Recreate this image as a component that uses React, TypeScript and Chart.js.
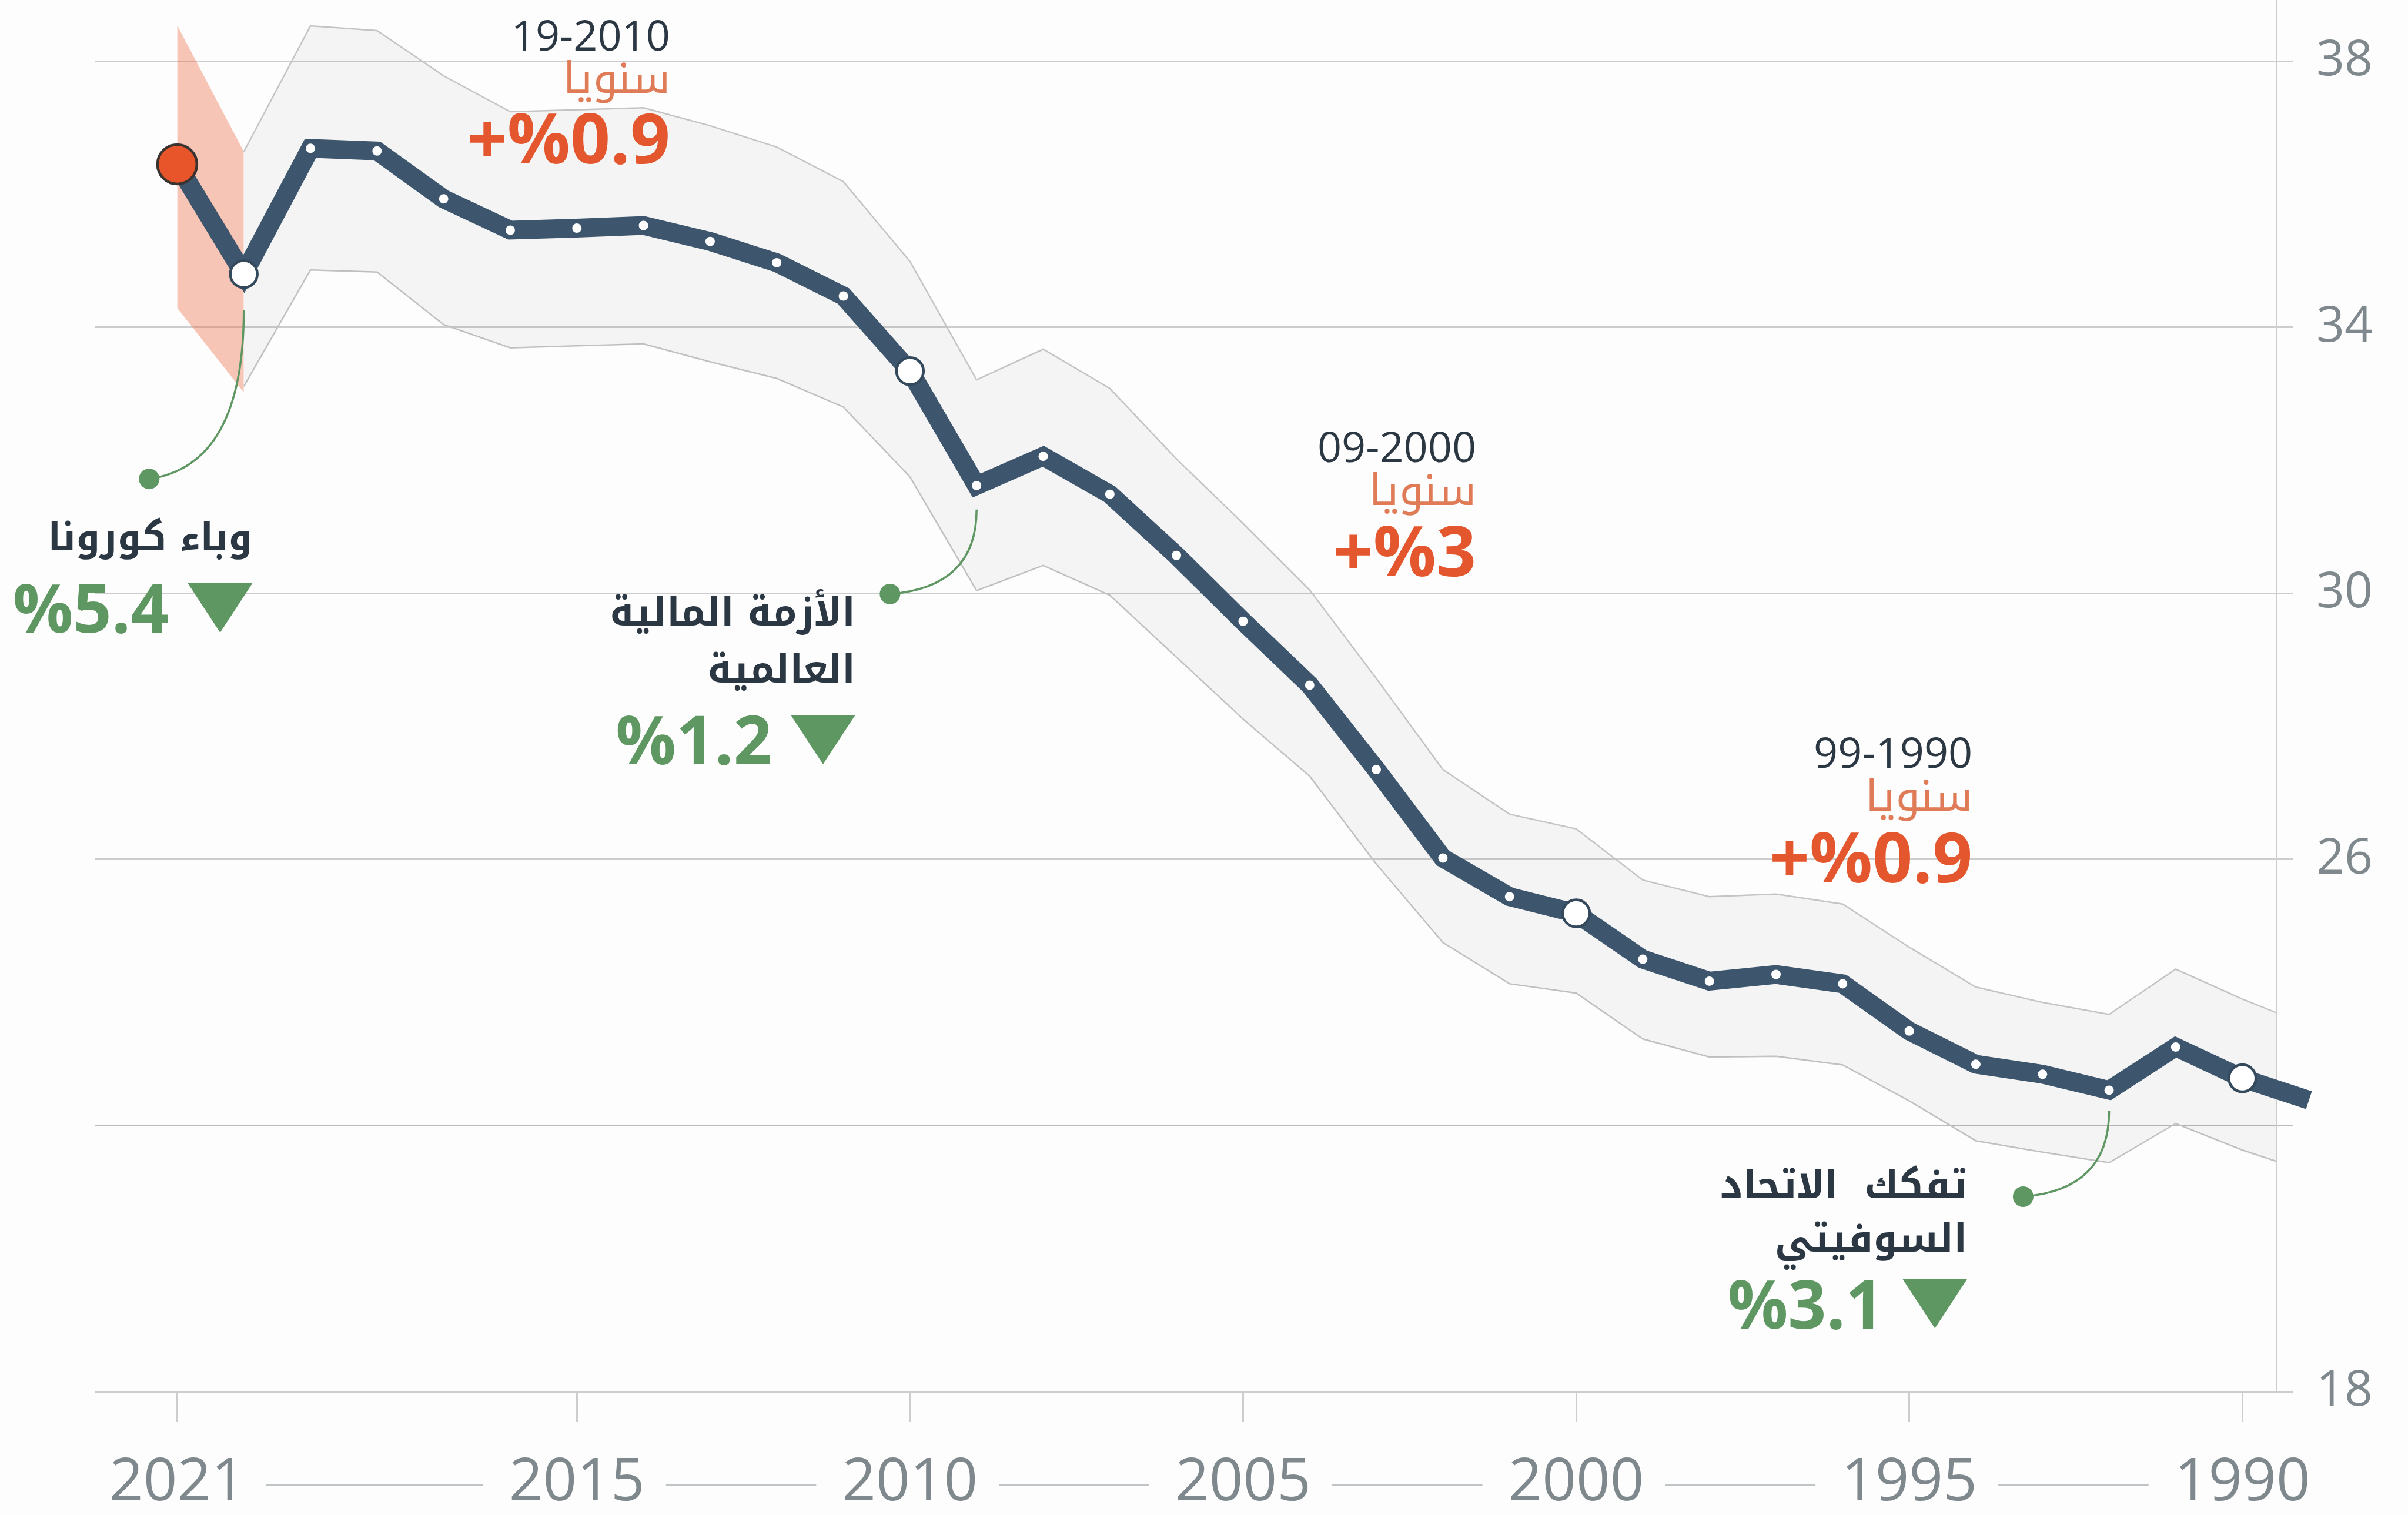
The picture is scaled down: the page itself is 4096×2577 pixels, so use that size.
import React, { useEffect, useRef } from "react";
import { Chart, registerables } from "chart.js";

Chart.register(...registerables);

// ---------------- data ----------------
const years = [2021, 2020, 2019, 2018, 2017, 2016, 2015, 2014, 2013, 2012, 2011, 2010, 2009, 2008, 2007, 2006, 2005, 2004, 2003, 2002, 2001, 2000, 1999, 1998, 1997, 1996, 1995, 1994, 1993, 1992, 1991, 1990, 1989];
const values = [36.45, 34.8, 36.69, 36.65, 35.93, 35.46, 35.49, 35.53, 35.29, 34.97, 34.47, 33.34, 31.62, 32.06, 31.49, 30.57, 29.58, 28.62, 27.35, 26.02, 25.44, 25.19, 24.5, 24.17, 24.27, 24.13, 23.42, 22.92, 22.77, 22.53, 23.18, 22.71, 22.38];

const bandYears = [2020, 2019, 2018, 2017, 2016, 2015, 2014, 2013, 2012, 2011, 2010, 2009, 2008, 2007, 2006, 2005, 2004, 2003, 2002, 2001, 2000, 1999, 1998, 1997, 1996, 1995, 1994, 1993, 1992, 1991, 1990, 1989];
const bandUpper = [36.64, 38.53, 38.46, 37.78, 37.24, 37.27, 37.3, 37.03, 36.71, 36.19, 34.99, 33.21, 33.67, 33.08, 32.02, 31.05, 30.05, 28.72, 27.35, 26.68, 26.46, 25.69, 25.44, 25.48, 25.33, 24.68, 24.08, 23.85, 23.67, 24.35, 23.9, 23.5];
const bandLower = [33.11, 34.86, 34.83, 34.04, 33.69, 33.72, 33.75, 33.48, 33.23, 32.8, 31.75, 30.04, 30.42, 29.97, 29.04, 28.11, 27.25, 25.93, 24.75, 24.13, 23.99, 23.3, 23.03, 23.04, 22.91, 22.37, 21.77, 21.6, 21.44, 22.03, 21.63, 21.3];

const covidYears = [2021, 2020];
const covidUpper = [38.54, 36.64];
const covidLower = [34.29, 33.02];

const highlightYears = [2020, 2010, 2000, 1990];
const currentYear = 2021;
const lastYear = 1989;

const xTickYears = [2021, 2015, 2010, 2005, 2000, 1995, 1990];
const yTickValues = [18, 22, 26, 30, 34, 38];
const hiddenYTick = 22;

const periodLabels = ["19-2010", "09-2000", "99-1990"];
const periodWord = "سنويا";
const periodRates = ["+%0.9", "+%3", "+%0.9"];

const eventTitles = [["وباء كورونا"], ["الأزمة المالية", "العالمية"], ["تفكك  الاتحاد", "السوفيتي"]];
const eventDrops = ["%5.4", "%1.2", "%3.1"];

// ---------------- layout (data coordinates) ----------------
const periodLayout = [
  { x: 2013.6, y: [38.16, 37.52, 36.46] },
  { x: 2001.5, y: [31.97, 31.33, 30.26] },
  { x: 1994.05, y: [27.38, 26.73, 25.65] },
];
const eventLayout = [
  { x: 2019.87, titleY: [30.65], dropY: 29.41, start: [2020, 34.26], dot: [2021.42, 31.72] },
  { x: 2010.82, titleY: [29.52, 28.66], dropY: 27.43, start: [2009, 31.26], dot: [2010.3, 29.99] },
  { x: 1994.13, titleY: [20.91, 20.1], dropY: 18.95, start: [1992, 22.22], dot: [1993.29, 20.93] },
];

// ---------------- style ----------------
const W = 4096;
const H = 2577;
const FONT = '"Open Sans", "Noto Sans", "DejaVu Sans", sans-serif';
const AR_FONT = '"Noto Kufi Arabic", "Noto Sans Arabic", "DejaVu Sans", sans-serif';
const LINE = "#3d566d";
const DARK_TEXT = "#2b3742";
const ORANGE = "#e4572e";
const ORANGE_LIGHT = "#df7b57";
const GREEN = "#5e9762";
const AXIS_TEXT = "#7e888d";
const GRID = "#cdcdcd";
const X_FONT = 101;
const Y_FONT = 84;
const X_TICK_LEN = 51;
const X_PAD = 45;
const CHART_RIGHT = 3872;
const Y_LABEL_RIGHT = 4036;

const bgPlugin = {
  id: "bg",
  beforeDraw(chart: any) {
    const ctx = chart.ctx;
    ctx.save();
    ctx.fillStyle = "#fdfdfd";
    ctx.fillRect(0, 0, chart.width, chart.height);
    ctx.restore();
  },
};

const dashPlugin = {
  id: "xdash",
  afterDraw(chart: any) {
    const ctx = chart.ctx;
    const xs = chart.scales.x;
    ctx.save();
    ctx.font = `${X_FONT}px ${FONT}`;
    const yMid = xs.top + X_TICK_LEN + X_PAD + (X_FONT * 1.2) / 2 + 2;
    ctx.strokeStyle = "#bfc4c6";
    ctx.lineWidth = 3;
    for (let i = 0; i < xTickYears.length - 1; i++) {
      const a = xTickYears[i];
      const b = xTickYears[i + 1];
      const pa = xs.getPixelForValue(a);
      const pb = xs.getPixelForValue(b);
      const wa = ctx.measureText(String(a)).width;
      const wb = ctx.measureText(String(b)).width;
      const x1 = pa + wa / 2 + 36;
      const x2 = pb - wb / 2 - 44;
      ctx.beginPath();
      ctx.moveTo(x1, yMid);
      ctx.lineTo(x2, yMid);
      ctx.stroke();
    }
    ctx.restore();
  },
};

function drawText(ctx: any, t: string, x: number, y: number, font: string, color: string, dir: string) {
  ctx.save();
  ctx.font = font;
  ctx.fillStyle = color;
  ctx.direction = dir;
  ctx.textAlign = "right";
  ctx.textBaseline = "alphabetic";
  ctx.fillText(t, x, y);
  ctx.restore();
}

const annotationPlugin = {
  id: "notes",
  afterDraw(chart: any) {
    const ctx = chart.ctx;
    const xs = chart.scales.x;
    const ys = chart.scales.y;
    const px = (v: number) => xs.getPixelForValue(v);
    const py = (v: number) => ys.getPixelForValue(v);

    periodLabels.forEach((lab, i) => {
      const L = periodLayout[i];
      const x = px(L.x);
      drawText(ctx, lab, x, py(L.y[0]), `400 72px ${FONT}`, DARK_TEXT, "ltr");
      drawText(ctx, periodWord, x, py(L.y[1]), `400 74px ${AR_FONT}`, ORANGE_LIGHT, "rtl");
      drawText(ctx, periodRates[i], x, py(L.y[2]), `700 119px ${FONT}`, ORANGE, "ltr");
    });

    eventTitles.forEach((lines, i) => {
      const L = eventLayout[i];
      const x = px(L.x);
      const sx = px(L.start[0]);
      const sy = py(L.start[1]);
      const dx = px(L.dot[0]);
      const dy = py(L.dot[1]);
      ctx.save();
      ctx.strokeStyle = GREEN;
      ctx.lineWidth = 3.5;
      ctx.beginPath();
      ctx.moveTo(sx, sy);
      ctx.quadraticCurveTo(sx, dy - (dy - sy) * 0.08, dx, dy);
      ctx.stroke();
      ctx.fillStyle = GREEN;
      ctx.beginPath();
      ctx.arc(dx, dy, 17.5, 0, Math.PI * 2);
      ctx.fill();
      ctx.restore();

      lines.forEach((t, j) => {
        drawText(ctx, t, x, py(L.titleY[j]), `700 66px ${AR_FONT}`, DARK_TEXT, "rtl");
      });
      const by = py(L.dropY);
      ctx.save();
      ctx.fillStyle = GREEN;
      ctx.beginPath();
      ctx.moveTo(x - 110, by - 84);
      ctx.lineTo(x, by - 84);
      ctx.lineTo(x - 55, by);
      ctx.closePath();
      ctx.fill();
      ctx.restore();
      drawText(ctx, eventDrops[i], x - 110 - 32, by, `700 114px ${FONT}`, GREEN, "ltr");
    });
  },
};

export default function App() {
  const ref = useRef<HTMLCanvasElement>(null);
  useEffect(() => {
    document.body.style.margin = "0";
    const canvas = ref.current as HTMLCanvasElement;
    const linePoints = years.map((yr, i) => ({ x: yr, y: values[i] }));
    const upperPts = bandYears.map((yr, i) => ({ x: yr, y: bandUpper[i] }));
    const lowerPts = bandYears.map((yr, i) => ({ x: yr, y: bandLower[i] }));
    const covUp = covidYears.map((yr, i) => ({ x: yr, y: covidUpper[i] }));
    const covLo = covidYears.map((yr, i) => ({ x: yr, y: covidLower[i] }));
    const isHi = (yr: number) => highlightYears.includes(yr);
    const radius = years.map((yr) => (yr === currentYear ? 33.5 : isHi(yr) ? 23 : yr === lastYear ? 0 : 8));

    const chart = new Chart(canvas, {
      type: "line",
      data: {
        datasets: [
          {
            label: "line",
            data: linePoints,
            borderColor: LINE,
            borderWidth: 32,
            borderJoinStyle: "miter",
            borderCapStyle: "butt",
            tension: 0,
            fill: false,
            clip: false,
            order: 0,
            pointRadius: radius,
            pointHoverRadius: radius,
            pointBackgroundColor: years.map((yr) => (yr === currentYear ? "#e8552b" : "#ffffff")),
            pointBorderColor: years.map((yr) => (yr === currentYear ? "#3a3330" : "#34495c")),
            pointBorderWidth: years.map((yr) => (yr === currentYear || isHi(yr) ? 4.5 : 0)),
          } as any,
          {
            label: "upper",
            data: upperPts,
            borderColor: "#c4c4c4",
            borderWidth: 2.5,
            pointRadius: 0,
            tension: 0,
            fill: "+1",
            backgroundColor: "rgba(0,0,0,0.037)",
            clip: 0,
            order: 2,
          } as any,
          {
            label: "lower",
            data: lowerPts,
            borderColor: "#c4c4c4",
            borderWidth: 2.5,
            pointRadius: 0,
            tension: 0,
            fill: false,
            clip: 0,
            order: 3,
          } as any,
          {
            label: "covidUpper",
            data: covUp,
            borderWidth: 0,
            borderColor: "rgba(0,0,0,0)",
            pointRadius: 0,
            tension: 0,
            fill: "+1",
            backgroundColor: "rgba(238,112,72,0.4)",
            clip: 0,
            order: 4,
          } as any,
          {
            label: "covidLower",
            data: covLo,
            borderWidth: 0,
            borderColor: "rgba(0,0,0,0)",
            pointRadius: 0,
            tension: 0,
            fill: false,
            clip: 0,
            order: 5,
          } as any,
        ],
      },
      options: {
        responsive: false,
        animation: false,
        devicePixelRatio: 1,
        events: [],
        layout: { autoPadding: false, padding: { left: 162, top: 0, right: W - Y_LABEL_RIGHT, bottom: 0 } },
        plugins: { legend: { display: false }, tooltip: { enabled: false } },
        scales: {
          x: {
            type: "linear",
            reverse: true,
            min: 1989.49,
            max: 2022.23,
            afterBuildTicks: (axis: any) => {
              axis.ticks = xTickYears.map((v) => ({ value: v }));
            },
            afterFit: (axis: any) => {
              axis.height = 210;
              axis.paddingLeft = 0;
              axis.paddingRight = 0;
              axis.paddingTop = 0;
              axis.paddingBottom = 0;
            },
            ticks: {
              autoSkip: false,
              maxRotation: 0,
              minRotation: 0,
              includeBounds: false,
              padding: X_PAD,
              color: AXIS_TEXT,
              font: { family: FONT, size: X_FONT },
              callback: (v: any) => String(v),
            },
            grid: { drawOnChartArea: false, drawTicks: true, tickLength: X_TICK_LEN, color: GRID, lineWidth: 3 },
            border: { display: true, color: GRID, width: 3 },
          },
          y: {
            type: "linear",
            position: "right",
            min: 18,
            max: 38.92,
            afterBuildTicks: (axis: any) => {
              axis.ticks = yTickValues.map((v) => ({ value: v }));
            },
            afterFit: (axis: any) => {
              axis.width = Y_LABEL_RIGHT - CHART_RIGHT;
              axis.paddingLeft = 0;
              axis.paddingRight = 0;
              axis.paddingTop = 0;
              axis.paddingBottom = 0;
            },
            ticks: {
              includeBounds: false,
              crossAlign: "far",
              padding: 10,
              color: AXIS_TEXT,
              font: { family: FONT, size: Y_FONT },
              callback: (v: any) => (v === hiddenYTick ? "" : String(v)),
            },
            grid: {
              drawTicks: true,
              tickLength: 28,
              lineWidth: 3,
              color: (c: any) => (c.tick && c.tick.value === hiddenYTick ? "#bababa" : GRID),
            },
            border: { display: true, color: GRID, width: 3 },
          },
        },
      } as any,
      plugins: [bgPlugin, dashPlugin, annotationPlugin],
    });
    return () => chart.destroy();
  }, []);

  return (
    <div style={{ position: "absolute", left: 0, top: 0, width: W, height: H }}>
      <canvas ref={ref} width={W} height={H} style={{ width: W, height: H, display: "block" }} />
    </div>
  );
}
